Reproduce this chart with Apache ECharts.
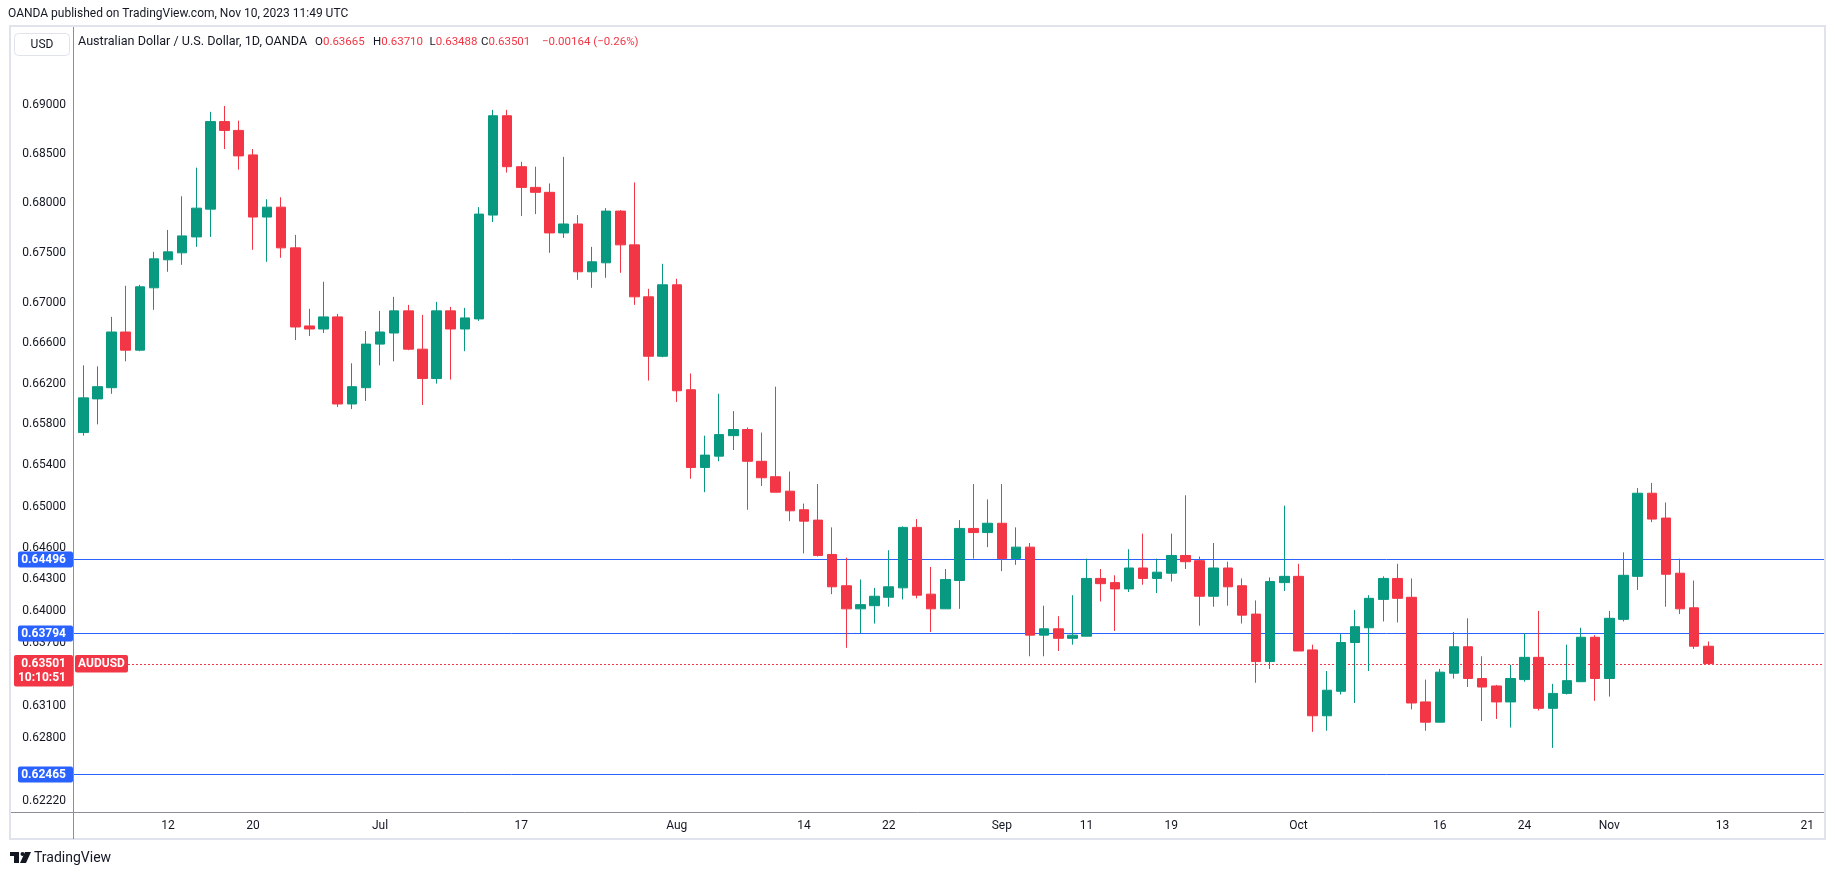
<!DOCTYPE html>
<html>
<head>
<meta charset="utf-8">
<script src="https://cdn.jsdelivr.net/npm/echarts@6/dist/echarts.min.js"></script>
<style>
html, body { margin: 0; padding: 0; background: #fff; }
#main { width: 1835px; height: 875px; }
</style>
</head>
<body>
<div id="main"></div>
<script>
// AUD/USD daily, 2 Jun 2023 .. 10 Nov 2023 (OANDA)
var openP = [
  0.6572, 0.6605, 0.6616, 0.6671, 0.6653, 0.6715, 0.6743, 0.6750, 0.6766, 0.6794,
  0.6883, 0.6874, 0.6849, 0.6786, 0.6796, 0.6755, 0.6677, 0.6674, 0.6686, 0.6600,
  0.6616, 0.6659, 0.6670, 0.6692, 0.6654, 0.6625, 0.6692, 0.6674, 0.6684, 0.6788,
  0.6889, 0.6837, 0.6816, 0.6811, 0.6770, 0.6779, 0.6731, 0.6740, 0.6792, 0.6758,
  0.6706, 0.6647, 0.6718, 0.6614, 0.6538, 0.6549, 0.6569, 0.6575, 0.6544, 0.6529,
  0.6515, 0.6497, 0.6487, 0.6454, 0.6424, 0.6402, 0.6405, 0.6413, 0.6422, 0.6480,
  0.6416, 0.6402, 0.6429, 0.6479, 0.6475, 0.6484, 0.6450, 0.6461, 0.6377, 0.6383,
  0.6374, 0.6376, 0.6431, 0.6427, 0.6421, 0.6441, 0.6431, 0.6436, 0.6453, 0.6448,
  0.6414, 0.6441, 0.6424, 0.6397, 0.6352, 0.6427, 0.6433, 0.6363, 0.6301, 0.6324,
  0.6370, 0.6384, 0.6411, 0.6431, 0.6413, 0.6314, 0.6295, 0.6341, 0.6366, 0.6336,
  0.6329, 0.6314, 0.6335, 0.6356, 0.6308, 0.6322, 0.6333, 0.6375, 0.6336, 0.6392,
  0.6433, 0.6513, 0.6489, 0.6436, 0.6403, 0.63665
];
var highP = [
  0.6638, 0.6637, 0.6686, 0.6717, 0.6718, 0.6751, 0.6773, 0.6807, 0.6836, 0.6893,
  0.6899, 0.6884, 0.6855, 0.6804, 0.6806, 0.6768, 0.6694, 0.6721, 0.6689, 0.6640,
  0.6672, 0.6692, 0.6706, 0.6698, 0.6688, 0.6701, 0.6696, 0.6695, 0.6796, 0.6895,
  0.6895, 0.6842, 0.6837, 0.6820, 0.6847, 0.6788, 0.6756, 0.6795, 0.6793, 0.6821,
  0.6714, 0.6739, 0.6724, 0.6630, 0.6569, 0.6610, 0.6593, 0.6577, 0.6572, 0.6617,
  0.6534, 0.6503, 0.6522, 0.6480, 0.6451, 0.6430, 0.6422, 0.6458, 0.6481, 0.6488,
  0.6442, 0.6440, 0.6487, 0.6522, 0.6507, 0.6522, 0.6480, 0.6465, 0.6405, 0.6395,
  0.6415, 0.6450, 0.6440, 0.6434, 0.6459, 0.6474, 0.6450, 0.6474, 0.6511, 0.6452,
  0.6465, 0.6447, 0.6431, 0.6410, 0.6432, 0.6501, 0.6445, 0.6368, 0.6343, 0.6378,
  0.6401, 0.6415, 0.6433, 0.6445, 0.6431, 0.6335, 0.6345, 0.6380, 0.6393, 0.6357,
  0.6330, 0.6349, 0.6379, 0.6400, 0.6331, 0.6368, 0.6384, 0.6377, 0.6400, 0.6456,
  0.6518, 0.6523, 0.6504, 0.6450, 0.6429, 0.63710
];
var lowP = [
  0.6569, 0.6580, 0.6610, 0.6642, 0.6652, 0.6693, 0.6731, 0.6738, 0.6756, 0.6766,
  0.6855, 0.6834, 0.6753, 0.6741, 0.6745, 0.6663, 0.6667, 0.6670, 0.6597, 0.6595,
  0.6603, 0.6638, 0.6642, 0.6653, 0.6599, 0.6620, 0.6624, 0.6652, 0.6682, 0.6781,
  0.6831, 0.6787, 0.6789, 0.6750, 0.6765, 0.6723, 0.6715, 0.6725, 0.6730, 0.6698,
  0.6623, 0.6646, 0.6602, 0.6527, 0.6514, 0.6544, 0.6555, 0.6497, 0.6520, 0.6514,
  0.6486, 0.6455, 0.6452, 0.6416, 0.6365, 0.6379, 0.6388, 0.6404, 0.6411, 0.6412,
  0.6380, 0.6402, 0.6402, 0.6450, 0.6461, 0.6438, 0.6444, 0.6357, 0.6357, 0.6362,
  0.6368, 0.6376, 0.6409, 0.6381, 0.6418, 0.6425, 0.6417, 0.6428, 0.6440, 0.6386,
  0.6404, 0.6405, 0.6388, 0.6332, 0.6345, 0.6419, 0.6362, 0.6286, 0.6287, 0.6321,
  0.6313, 0.6343, 0.6390, 0.6389, 0.6307, 0.6287, 0.6295, 0.6336, 0.6328, 0.6296,
  0.6298, 0.6290, 0.6333, 0.6306, 0.6271, 0.6321, 0.6333, 0.6315, 0.6319, 0.6390,
  0.6420, 0.6485, 0.6404, 0.6397, 0.6364, 0.63488
];
var closeP = [
  0.6606, 0.6617, 0.6671, 0.6653, 0.6716, 0.6744, 0.6751, 0.6767, 0.6795, 0.6883,
  0.6874, 0.6848, 0.6786, 0.6796, 0.6755, 0.6676, 0.6674, 0.6686, 0.6600, 0.6617,
  0.6659, 0.6671, 0.6692, 0.6654, 0.6625, 0.6692, 0.6674, 0.6685, 0.6789, 0.6889,
  0.6837, 0.6816, 0.6811, 0.6770, 0.6779, 0.6731, 0.6741, 0.6792, 0.6758, 0.6706,
  0.6647, 0.6718, 0.6613, 0.6538, 0.6550, 0.6570, 0.6575, 0.6544, 0.6528, 0.6514,
  0.6496, 0.6486, 0.6453, 0.6423, 0.6402, 0.6406, 0.6414, 0.6423, 0.6480, 0.6415,
  0.6402, 0.6430, 0.6479, 0.6475, 0.6484, 0.6450, 0.6461, 0.6377, 0.6383, 0.6374,
  0.6377, 0.6431, 0.6426, 0.6421, 0.6441, 0.6431, 0.6437, 0.6453, 0.6447, 0.6414,
  0.6441, 0.6423, 0.6396, 0.6352, 0.6428, 0.6433, 0.6362, 0.6301, 0.6325, 0.6370,
  0.6385, 0.6412, 0.6431, 0.6412, 0.6313, 0.6295, 0.6342, 0.6366, 0.6336, 0.6328,
  0.6314, 0.6336, 0.6356, 0.6308, 0.6322, 0.6334, 0.6375, 0.6336, 0.6393, 0.6434,
  0.6513, 0.6488, 0.6435, 0.6402, 0.63665, 0.63501
];

var yTicks = [0.69, 0.685, 0.68, 0.675, 0.67, 0.666, 0.662, 0.658, 0.654,
  0.65, 0.646, 0.643, 0.64, 0.637, 0.631, 0.628, 0.6222];
var levels = [0.64496, 0.63794, 0.62465];
var countdown = '10:10:51';
var xLabelDates = ['2023-06-12', '2023-06-20', '2023-07-03', '2023-07-17', '2023-08-01',
  '2023-08-14', '2023-08-22', '2023-09-01', '2023-09-11', '2023-09-19', '2023-10-02',
  '2023-10-16', '2023-10-24', '2023-11-01', '2023-11-13', '2023-11-21'];
var xLabelText = ['12', '20', 'Jul', '17', 'Aug', '14', '22', 'Sep', '11', '19', 'Oct',
  '16', '24', 'Nov', '13', '21'];

// trading calendar (weekdays) from the first bar up to the right edge
var dates = [];
var d = new Date(Date.UTC(2023, 5, 2));
while (dates.length < 123) {
  var wd = d.getUTCDay();
  if (wd !== 0 && wd !== 6) dates.push(d.toISOString().slice(0, 10));
  d.setUTCDate(d.getUTCDate() + 1);
}
var xLabelIdx = xLabelDates.map(function (s) { return dates.indexOf(s); });

var candles = openP.map(function (o, i) {
  return [i, o, closeP[i], lowP[i], highP[i]];
});

var UP = '#089981', DOWN = '#F23645', BLUE = '#2962FF', INK = '#131722';
var FONT = 'Roboto, "Liberation Sans", sans-serif';
var last = openP.length - 1;
var lastPrice = closeP[last];
var PLOT_L = 73, PLOT_R = 1824;

var chart = echarts.init(document.getElementById('main'));
var option = {
  animation: false,
  backgroundColor: '#fff',
  grid: { left: PLOT_L, right: 1835 - PLOT_R, top: 27, bottom: 63 },
  xAxis: {
    type: 'value',
    min: -0.73,
    max: 123.19,
    splitLine: { show: false },
    axisLine: { show: false },
    axisTick: { show: false },
    axisLabel: {
      customValues: xLabelIdx,
      formatter: function (v) {
        var k = xLabelIdx.indexOf(Math.round(v));
        return k < 0 ? '' : xLabelText[k];
      },
      color: INK,
      fontSize: 12,
      fontFamily: FONT,
      margin: 8
    }
  },
  yAxis: {
    type: 'log',
    min: 0.62115,
    max: 0.69805,
    axisLine: { show: false },
    axisTick: { show: false },
    axisLabel: { show: false },
    splitLine: { show: false }
  },
  series: [{
    type: 'candlestick',
    data: candles,
    barWidth: 10,
    z: 5,
    itemStyle: {
      color: UP, color0: DOWN,
      borderColor: UP, borderColor0: DOWN,
      borderWidth: 1
    }
  }]
};
chart.setOption(option);

function py(v) {
  return chart.convertToPixel({ yAxisIndex: 0 }, v);
}

function txt(x, y, s, opt) {
  opt = opt || {};
  return {
    type: 'text', z: opt.z || 100, x: x, y: y,
    style: {
      text: s,
      fill: opt.fill || INK,
      fontSize: opt.size || 12,
      fontFamily: FONT,
      fontWeight: opt.weight || 'normal',
      align: opt.align || 'left',
      verticalAlign: 'middle'
    }
  };
}

var g = [];
// panel frame and axis separators
g.push({ type: 'rect', z: 90, shape: { x: 10, y: 26, width: 1815, height: 813 },
  style: { fill: 'none', stroke: '#E0E3EB', lineWidth: 2 } });
g.push({ type: 'line', z: 91, shape: { x1: 73.5, y1: 27, x2: 73.5, y2: 839 },
  style: { stroke: '#8C8F99', lineWidth: 1 } });
g.push({ type: 'line', z: 91, shape: { x1: 11, y1: 812.5, x2: 1824, y2: 812.5 },
  style: { stroke: '#8C8F99', lineWidth: 1 } });

// horizontal levels and the last-price line (placed through the price scale)
levels.forEach(function (v) {
  var y = Math.round(py(v)) + 0.5;
  g.push({ type: 'line', z: 1, shape: { x1: 74, y1: y, x2: PLOT_R, y2: y },
    style: { stroke: BLUE, lineWidth: 1 } });
});
var ylp = Math.round(py(lastPrice)) + 0.5;
g.push({ type: 'line', z: 1, shape: { x1: 128, y1: ylp, x2: PLOT_R, y2: ylp },
  style: { stroke: DOWN, lineWidth: 1, lineDash: [2, 2] } });

// header
g.push(txt(8, 14, 'OANDA published on TradingView.com, Nov 10, 2023 11:49 UTC'));
g.push({ type: 'rect', z: 100, shape: { x: 14.5, y: 33.5, width: 55, height: 22, r: 4 },
  style: { fill: '#fff', stroke: '#E0E3EB', lineWidth: 1 } });
g.push(txt(42, 45, 'USD', { align: 'center', z: 102 }));
g.push(txt(78, 42, 'Australian Dollar / U.S. Dollar, 1D, OANDA', { size: 12.6 }));

var chg = closeP[last] - closeP[last - 1];
var pct = chg / closeP[last - 1] * 100;
function sgn(v, n) { return (v < 0 ? '\u2212' : '+') + Math.abs(v).toFixed(n); }
var ohlc = [['O', openP[last], 315], ['H', highP[last], 373], ['L', lowP[last], 429.5], ['C', closeP[last], 481]];
ohlc.forEach(function (e) {
  g.push({
    type: 'text', z: 100, x: e[2], y: 42,
    style: {
      text: '{k|' + e[0] + '}{v|' + e[1].toFixed(5) + '}',
      verticalAlign: 'middle',
      rich: {
        k: { fill: INK, fontSize: 11.5, fontFamily: FONT },
        v: { fill: DOWN, fontSize: 11.5, fontFamily: FONT }
      }
    }
  });
});
g.push(txt(542, 42, sgn(chg, 5) + ' (' + sgn(pct, 2) + '%)', { fill: DOWN, size: 11.5 }));

// price scale labels
yTicks.forEach(function (v) {
  g.push(txt(66, py(v), v.toFixed(5), { align: 'right' }));
});

// horizontal level tags
levels.forEach(function (v) {
  var y = Math.round(py(v)) + 0.5;
  g.push({ type: 'rect', z: 101, shape: { x: 18, y: y - 8, width: 55, height: 16, r: 2 },
    style: { fill: BLUE } });
  g.push(txt(66, y, v.toFixed(5), { fill: '#fff', weight: 'bold', align: 'right', z: 102 }));
});

// last price tag with countdown and symbol tag
g.push({ type: 'rect', z: 101, shape: { x: 14, y: ylp - 9.5, width: 59, height: 31.5, r: 2 },
  style: { fill: DOWN } });
g.push(txt(66, ylp - 0.5, lastPrice.toFixed(5), { fill: '#fff', weight: 'bold', align: 'right', z: 102 }));
g.push(txt(66, ylp + 13.5, countdown, { fill: '#fff', weight: 'bold', align: 'right', z: 102 }));
g.push({ type: 'rect', z: 101, shape: { x: 75, y: ylp - 9.5, width: 53, height: 17.5, r: 2 },
  style: { fill: DOWN } });
g.push(txt(101.5, ylp - 0.5, 'AUDUSD', { fill: '#fff', weight: 'bold', align: 'center', z: 102 }));

// footer logo
g.push({ type: 'group', z: 100, children: [
  { type: 'rect', shape: { x: 10, y: 852, width: 9, height: 4 }, style: { fill: INK } },
  { type: 'rect', shape: { x: 14, y: 852, width: 5, height: 11 }, style: { fill: INK } },
  { type: 'circle', shape: { cx: 22.5, cy: 854, r: 2 }, style: { fill: INK } },
  { type: 'polygon', shape: { points: [[25, 852], [31, 852], [26, 863], [20, 863]] }, style: { fill: INK } }
] });
g.push(txt(34, 858, 'TradingView', { size: 14 }));

chart.setOption({ graphic: g });
</script>
</body>
</html>
